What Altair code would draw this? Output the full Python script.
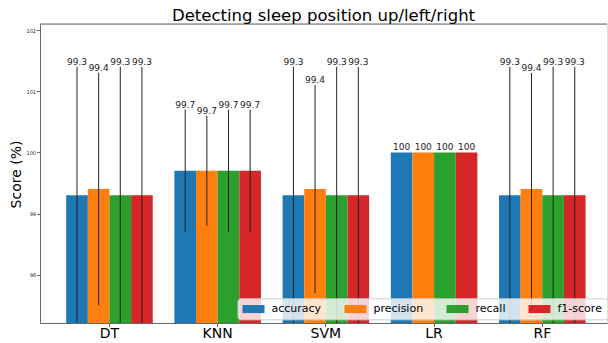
import altair as alt
import pandas as pd

models = ["DT", "KNN", "SVM", "LR", "RF"]
metrics = ["accuracy", "precision", "recall", "f1-score"]
accuracy = [99.3, 99.7, 99.3, 100.0, 99.3]
precision = [99.4, 99.7, 99.4, 100.0, 99.4]
recall = [99.3, 99.7, 99.3, 100.0, 99.3]
f1_score = [99.3, 99.7, 99.3, 100.0, 99.3]
err_accuracy = [2.1, 1.0, 2.1, 0.0, 2.1]
err_precision = [1.9, 0.9, 1.7, 0.0, 1.9]
err_recall = [2.1, 1.0, 2.1, 0.0, 2.1]
err_f1_score = [2.1, 1.0, 2.1, 0.0, 2.1]
colors = ["#1f77b4", "#ff7f0e", "#2ca02c", "#d62728"]
y_ticks = [98, 99, 100, 101, 102]

values = {"accuracy": accuracy, "precision": precision, "recall": recall, "f1-score": f1_score}
errors = {"accuracy": err_accuracy, "precision": err_precision, "recall": err_recall, "f1-score": err_f1_score}
rows = []
for m in metrics:
    for i, mod in enumerate(models):
        rows.append({"model": mod, "metric": m, "score": values[m][i], "err": errors[m][i]})
df = pd.DataFrame(rows)

W, H = 567, 299
AX = "#666666"

base = alt.Chart(df).transform_calculate(
    lo="datum.score - datum.err", hi="datum.score + datum.err"
)

x_axis = alt.Axis(labelFontSize=14, labelAngle=0, tickSize=3.5, labelPadding=0,
                  domainColor=AX, tickColor=AX, labelColor="black", grid=False)
y_axis = alt.Axis(values=y_ticks, labelFontSize=5, tickSize=3.5, labelPadding=1,
                  domainColor=AX, tickColor=AX, labelColor="#222222", grid=False,
                  titleFontSize=14, titleFontWeight="normal", titleColor="black",
                  titleX=-24, titleY=150, titleAlign="center", titleBaseline="middle")
x_scale = alt.Scale(domain=models, paddingInner=0.2, paddingOuter=0.22, align=0.55)
xo_scale = alt.Scale(domain=metrics, paddingInner=0, paddingOuter=0)
y_scale = alt.Scale(domain=[97.21, 102.1], zero=False, nice=False)

def X():
    return alt.X("model:N", sort=models, scale=x_scale, axis=x_axis, title=None)

def XO():
    return alt.XOffset("metric:N", sort=metrics, scale=xo_scale)

bars = base.mark_bar(clip=True).encode(
    x=X(), xOffset=XO(),
    y=alt.Y("score:Q", scale=y_scale, axis=y_axis, title="Score (%)"),
    y2=alt.datum(90),
    color=alt.Color("metric:N", sort=metrics,
                    scale=alt.Scale(domain=metrics, range=colors),
                    legend=alt.Legend(orient="none", legendX=197.5, legendY=274.3,
                                      direction="horizontal", columns=4, title=None,
                                      symbolType="M-1,-0.73H3V0.73H-1Z", symbolSize=121,
                                      symbolStrokeWidth=0, symbolOpacity=1,
                                      labelFontSize=11, labelColor="black",
                                      labelOffset=18, columnPadding=23, padding=5,
                                      fillColor="rgba(255,255,255,0.8)",
                                      strokeColor="#cccccc", cornerRadius=3)),
)

rules = base.mark_rule(clip=True, color="#222222", strokeWidth=1).encode(
    x=X(), xOffset=XO(),
    y=alt.Y("lo:Q", scale=y_scale, axis=y_axis, title="Score (%)"),
    y2="hi:Q",
)

texts = base.mark_text(baseline="alphabetic", dy=-2, fontSize=9, color="#222222").encode(
    x=X(), xOffset=XO(),
    y=alt.Y("hi:Q", scale=y_scale, axis=y_axis, title="Score (%)"),
    text=alt.Text("score:Q", format=".1~f"),
)

border = alt.Chart(pd.DataFrame({"k": [0]})).mark_rule(color=AX, strokeWidth=1).encode(
    x=alt.value(0), x2=alt.value(W), y=alt.value(0)
)

chart = alt.layer(bars, rules, texts, border).properties(
    width=W, height=H,
    title=alt.TitleParams("Detecting sleep position up/left/right", fontSize=16.5,
                          fontWeight="normal", color="black", anchor="middle",
                          frame="group", offset=3, baseline="alphabetic", dy=17),
    autosize=alt.AutoSizeParams(type="none"),
    padding={"left": 40, "top": 24, "right": 1, "bottom": 20},
).configure_view(stroke=None).configure(font="DejaVu Sans")

chart.save("out.html", embed_options={"renderer": "svg", "actions": False})
